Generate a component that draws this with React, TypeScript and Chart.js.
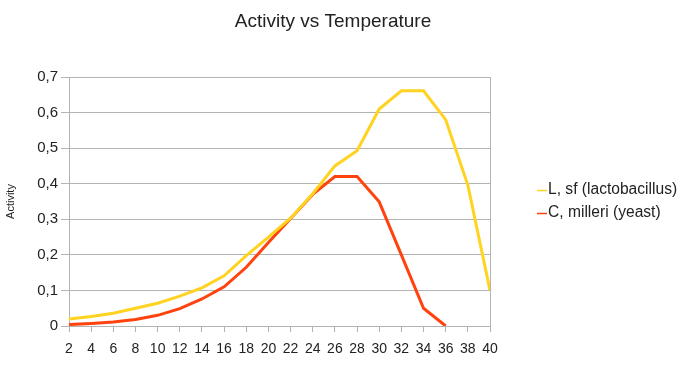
import React, { useEffect, useRef } from "react";
import { Chart, registerables } from "chart.js";

Chart.register(...registerables);

const temperatures = [2, 4, 6, 8, 10, 12, 14, 16, 18, 20, 22, 24, 26, 28, 30, 32, 34, 36, 38, 40];
const lactobacillus = [0.02, 0.027, 0.036, 0.05, 0.064, 0.084, 0.107, 0.141, 0.198, 0.25, 0.303, 0.372, 0.45, 0.493, 0.61, 0.661, 0.661, 0.58, 0.396, 0.1];
const yeast = [0.004, 0.007, 0.011, 0.018, 0.03, 0.049, 0.076, 0.11, 0.165, 0.235, 0.302, 0.37, 0.42, 0.42, 0.349, 0.2, 0.05, 0, null, null];
const seriesLabels = ["L, sf (lactobacillus)", "C, milleri (yeast)"];
const seriesColors = ["#ffd320", "#ff420e"];
const titleText = "Activity vs Temperature";
const yAxisTitle = "Activity";

const FONT = "'Liberation Sans', Arial, sans-serif";

export default function App() {
  const ref = useRef<HTMLCanvasElement | null>(null);

  useEffect(() => {
    document.body.style.margin = "0";
    const canvas = ref.current;
    if (!canvas) return;

    const decor = {
      id: "decor",
      afterDraw(chart: any) {
        const ctx = chart.ctx;
        const area = chart.chartArea;
        ctx.save();
        // right border of plot area
        ctx.strokeStyle = "#b3b3b3";
        ctx.lineWidth = 1;
        ctx.beginPath();
        ctx.moveTo(Math.round(area.right) + 0.5, area.top);
        ctx.lineTo(Math.round(area.right) + 0.5, area.bottom);
        ctx.stroke();
        // title
        ctx.fillStyle = "#222";
        ctx.font = `19px ${FONT}`;
        ctx.textAlign = "center";
        ctx.textBaseline = "middle";
        ctx.fillText(titleText, 333, 22);
        // legend
        ctx.font = `15.6px ${FONT}`;
        ctx.textAlign = "left";
        chart.data.datasets.forEach((ds: any, i: number) => {
          const y = 190 + i * 23;
          ctx.strokeStyle = ds.borderColor;
          ctx.lineWidth = 1.5;
          ctx.beginPath();
          ctx.moveTo(537, y + 0.5);
          ctx.lineTo(547, y + 0.5);
          ctx.stroke();
          ctx.fillStyle = "#222";
          ctx.fillText(ds.label, 548, y);
        });
        ctx.restore();
      },
    };

    const chart = new Chart(canvas, {
      type: "line",
      data: {
        labels: temperatures.map(String),
        datasets: [
          {
            label: seriesLabels[0],
            data: lactobacillus,
            borderColor: seriesColors[0],
            backgroundColor: seriesColors[0],
            borderWidth: 3,
            pointRadius: 0,
            tension: 0,
          },
          {
            label: seriesLabels[1],
            data: yeast,
            borderColor: seriesColors[1],
            backgroundColor: seriesColors[1],
            borderWidth: 3,
            pointRadius: 0,
            tension: 0,
          },
        ],
      },
      options: {
        animation: false,
        responsive: true,
        maintainAspectRatio: false,
        layout: { padding: { left: 0, top: 77, right: 194, bottom: 0 } },
        plugins: {
          legend: { display: false },
          title: { display: false },
          tooltip: { enabled: false },
        },
        scales: {
          x: {
            offset: false,
            grid: {
              drawOnChartArea: false,
              drawTicks: true,
              tickLength: 6,
              color: "#b3b3b3",
            },
            border: { display: true, color: "#b3b3b3" },
            ticks: {
              autoSkip: false,
              maxRotation: 0,
              padding: 9,
              color: "#222",
              font: { family: FONT, size: 14 },
            },
            afterFit: (scale: any) => {
              scale.height = 48;
            },
          },
          y: {
            min: 0,
            max: 0.7,
            ticks: {
              stepSize: 0.1,
              padding: 3,
              color: "#222",
              font: { family: FONT, size: 15 },
              callback: (v: any) => {
                const n = Number(v);
                if (Math.abs(n) < 1e-9) return "0";
                return n.toFixed(1).replace(".", ",");
              },
            },
            grid: { color: "#b3b3b3", tickLength: 8 },
            border: { display: true, color: "#b3b3b3" },
            title: {
              display: true,
              text: yAxisTitle,
              color: "#222",
              font: { family: FONT, size: 11 },
              padding: { top: 4, bottom: 4 },
            },
            afterFit: (scale: any) => {
              scale.width = 69;
            },
          },
        },
      },
      plugins: [decor],
    });

    return () => chart.destroy();
  }, []);

  return (
    <div style={{ position: "fixed", left: 0, top: 0, width: 684, height: 374 }}>
      <canvas ref={ref} />
    </div>
  );
}
